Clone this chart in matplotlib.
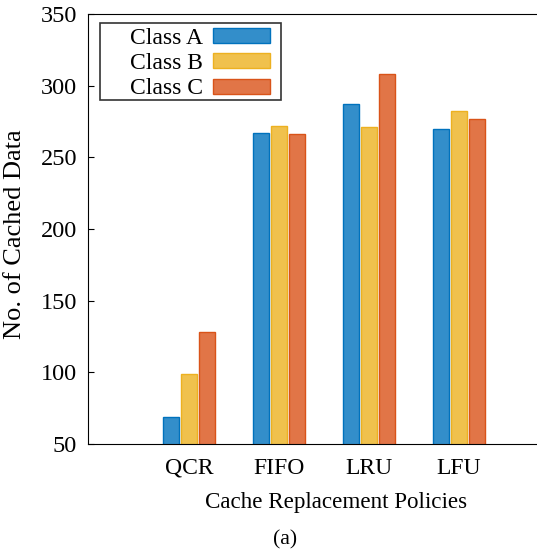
import numpy as np
import matplotlib
matplotlib.use('Agg')
import matplotlib.pyplot as plt
from matplotlib.patches import Rectangle

# data
policies = ['QCR', 'FIFO', 'LRU', 'LFU']
class_a = [69, 267, 287, 270]
class_b = [99, 272, 271, 282]
class_c = [128, 266, 308, 277]
labels = ['Class A', 'Class B', 'Class C']

face = ['#338ECA', '#F0C14D', '#E17547']
edge = ['#0072BD', '#EDB120', '#D95319']

plt.rcParams['font.family'] = ['Liberation Serif', 'DejaVu Serif']
plt.rcParams['font.size'] = 17

fig = plt.figure(figsize=(5.37, 5.55), dpi=100)
ax = fig.add_axes([88/537, 1 - 444/555, 1 - 88/537, 430/555])

x = np.arange(1, len(policies) + 1)
w = 0.17
for i, vals in enumerate([class_a, class_b, class_c]):
    ax.bar(x + (i - 1) * 0.2, vals, width=w, bottom=0, color=face[i],
           edgecolor=edge[i], linewidth=1, label=labels[i])

ax.set_ylim(50, 350)
ax.set_xlim(1 - 101/90, 1 + 348/90)
ax.set_xticks(x)
ax.set_xticklabels(policies)
ax.set_yticks(np.arange(50, 351, 50))
ax.tick_params(axis='x', length=0, pad=10, labelsize=17)
ax.tick_params(axis='y', direction='in', length=4, pad=8, labelsize=17.5)
ax.spines['right'].set_visible(False)

ax.set_xlabel('Cache Replacement Policies', fontsize=16.6)
ax.xaxis.set_label_coords(0.552, -0.135)
ax.xaxis.label.set_va('center')
ax.set_ylabel('No. of Cached Data', fontsize=19)
ax.yaxis.set_label_coords(-0.163, 0.488)
ax.yaxis.label.set_va('center')

# legend box drawn by hand, entries from the bars
box = Rectangle((12/449, (444 - 100)/430), 181/449, 77/430, transform=ax.transAxes,
                fill=True, facecolor='white', edgecolor='#333333', linewidth=1.2,
                clip_on=False, zorder=4)
ax.add_patch(box)
leg = ax.legend(loc='upper right', bbox_to_anchor=((281 - 88 - 11)/449, (444 - 28)/430),
                borderaxespad=0, borderpad=0, markerfirst=False, handlelength=2.4,
                handleheight=0.6, handletextpad=0.45, labelspacing=0.18,
                frameon=False, fontsize=17)
leg.set_zorder(5)

fig.text(285/537, 1 - 540/555, '(a)', ha='center', va='center', fontsize=15.7)

fig.savefig('out.png', dpi=100)
